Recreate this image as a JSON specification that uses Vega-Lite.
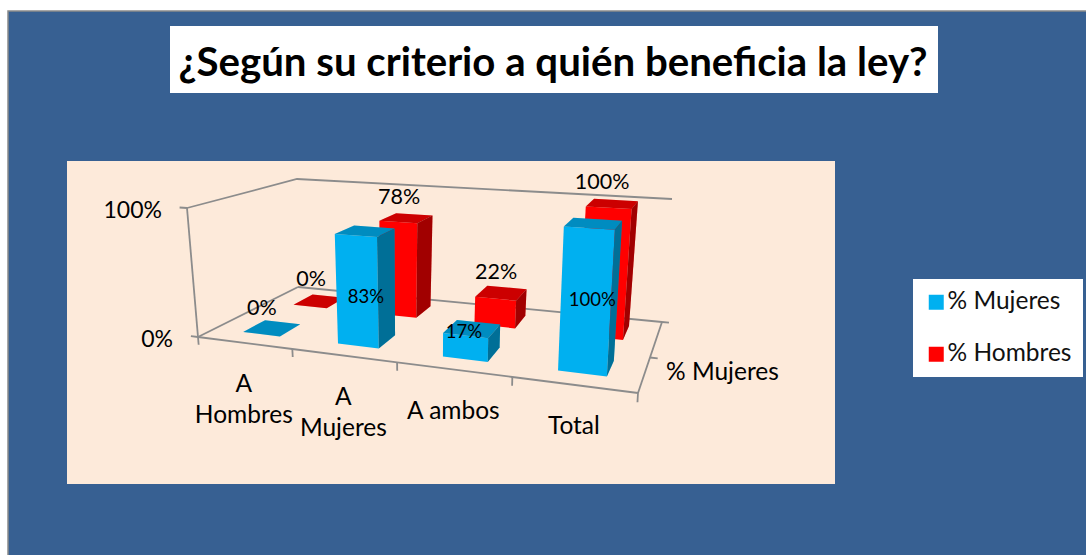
{
"$schema":"https://vega.github.io/schema/vega-lite/v6.json",
"width":1086,"height":555,"padding":0,"autosize":{"type":"none"},
"background":"#ffffff",
"config":{"view":{"stroke":null},"font":"Lato"},
"datasets":{
"barras":[
{"categoria":"A Hombres","serie":"% Hombres","valor":0},
{"categoria":"A Mujeres","serie":"% Hombres","valor":78},
{"categoria":"A ambos","serie":"% Hombres","valor":22},
{"categoria":"Total","serie":"% Hombres","valor":100},
{"categoria":"A Hombres","serie":"% Mujeres","valor":0},
{"categoria":"A Mujeres","serie":"% Mujeres","valor":83},
{"categoria":"A ambos","serie":"% Mujeres","valor":17},
{"categoria":"Total","serie":"% Mujeres","valor":100}
],
"marco":[
{"seg":"frente","k":0,"u":0,"w":0,"v":0},{"seg":"frente","k":1,"u":0.25,"w":0,"v":0},{"seg":"frente","k":2,"u":0.5,"w":0,"v":0},{"seg":"frente","k":3,"u":0.75,"w":0,"v":0},{"seg":"frente","k":4,"u":1,"w":0,"v":0},
{"seg":"derecha","k":0,"u":1,"w":0,"v":0},{"seg":"derecha","k":1,"u":1,"w":1,"v":0},
{"seg":"fondo","k":0,"u":1,"w":1,"v":0},{"seg":"fondo","k":1,"u":0,"w":1,"v":0},
{"seg":"izquierda","k":0,"u":0,"w":1,"v":0},{"seg":"izquierda","k":1,"u":0,"w":0,"v":0},
{"seg":"eje","k":0,"u":0,"w":0,"v":0},{"seg":"eje","k":1,"u":0,"w":0,"v":1},
{"seg":"techo","k":0,"u":0,"w":0,"v":1},{"seg":"techo","k":1,"u":0,"w":1,"v":1},{"seg":"techo","k":2,"u":1,"w":1,"v":1},
{"seg":"t1","k":0,"u":-0.02,"w":0,"v":1},{"seg":"t1","k":1,"u":0,"w":0,"v":1},
{"seg":"t2","k":0,"u":-0.02,"w":0,"v":0},{"seg":"t2","k":1,"u":0,"w":0,"v":0},
{"seg":"t3","k":0,"u":0,"w":0,"v":0},{"seg":"t3","k":1,"u":0,"w":0,"v":-0.06},
{"seg":"t4","k":0,"u":0.25,"w":0,"v":0},{"seg":"t4","k":1,"u":0.25,"w":0,"v":-0.06},
{"seg":"t5","k":0,"u":0.5,"w":0,"v":0},{"seg":"t5","k":1,"u":0.5,"w":0,"v":-0.06},
{"seg":"t6","k":0,"u":0.75,"w":0,"v":0},{"seg":"t6","k":1,"u":0.75,"w":0,"v":-0.06},
{"seg":"t7","k":0,"u":1,"w":0,"v":0},{"seg":"t7","k":1,"u":1,"w":0,"v":-0.06},
{"seg":"t8","k":0,"u":1,"w":0.5,"v":0},{"seg":"t8","k":1,"u":1.016,"w":0.5,"v":0},
{"seg":"t9","k":0,"u":1,"w":1,"v":0},{"seg":"t9","k":1,"u":1.016,"w":1,"v":0}
]
},
"encoding":{
"x":{"field":"px","type":"quantitative","scale":{"domain":[0,1086],"nice":false,"zero":false},"axis":null},
"y":{"field":"py","type":"quantitative","scale":{"domain":[555,0],"nice":false,"zero":false},"axis":null}
},
"layer":[
{"data":{"values":[{"n":"fondo"}]},
"transform":[{"calculate":"8","as":"px"},{"calculate":"1086","as":"px2"},{"calculate":"11","as":"py"},{"calculate":"555","as":"py2"}],
"mark":{"type":"rect","fill":"#376092"},
"encoding":{"x2":{"field":"px2"},"y2":{"field":"py2"}}},
{"data":{"values":[{"k":0},{"k":1},{"k":2}]},
"transform":[{"calculate":"[8,8,1086][datum.k]","as":"px"},{"calculate":"[555,11,11][datum.k]","as":"py"}],
"mark":{"type":"line","stroke":"#8a8a8a","strokeWidth":1.5},
"encoding":{"order":{"field":"k","type":"quantitative"}}},
{"data":{"values":[{"n":"titulo"}]},
"transform":[{"calculate":"170","as":"px"},{"calculate":"938","as":"px2"},{"calculate":"26","as":"py"},{"calculate":"93","as":"py2"}],
"mark":{"type":"rect","fill":"#ffffff"},
"encoding":{"x2":{"field":"px2"},"y2":{"field":"py2"}}},
{"data":{"values":[{"n":"panel"}]},
"transform":[{"calculate":"67","as":"px"},{"calculate":"835","as":"px2"},{"calculate":"161","as":"py"},{"calculate":"484","as":"py2"}],
"mark":{"type":"rect","fill":"#FDEADA"},
"encoding":{"x2":{"field":"px2"},"y2":{"field":"py2"}}},
{"data":{"values":[{"t":"¿Según su criterio a quién beneficia la ley?"}]},
"transform":[{"calculate":"553","as":"px"},{"calculate":"64","as":"py"}],
"mark":{"type":"text","fontSize":40.2,"fontWeight":"bold","font":"Lato","color":"#000000","align":"center","baseline":"middle"},
"encoding":{"text":{"field":"t"}}},
{"data":{"name":"marco"},
"transform":[
{"calculate":"datum.u-0.19*datum.u*(1-datum.u)","as":"f"},
{"calculate":"(1-datum.v)*((1-datum.w)*((1-datum.f)*198+datum.f*638)+datum.w*((1-datum.f)*298+datum.f*662))+datum.v*((1-datum.w)*((1-datum.f)*187+datum.f*647.4)+datum.w*((1-datum.f)*297+datum.f*672))","as":"px"},
{"calculate":"(1-datum.v)*((1-datum.w)*((1-datum.f)*337+datum.f*393)+datum.w*((1-datum.f)*287+datum.f*322))+datum.v*((1-datum.w)*((1-datum.f)*208+datum.f*239)+datum.w*((1-datum.f)*179+datum.f*199))","as":"py"}
],
"mark":{"type":"line","stroke":"#8c8c8c","strokeWidth":1.8,"interpolate":"linear"},
"encoding":{"detail":{"field":"seg"},"order":{"field":"k","type":"quantitative"}}},
{"data":{"name":"barras"},
"transform":[
{"calculate":"indexof(['A Hombres','A Mujeres','A ambos','Total'],datum.categoria)","as":"i"},
{"calculate":"[{cara:'frente',k:0,ku:0,kw:0,kv:0},{cara:'frente',k:1,ku:1,kw:0,kv:0},{cara:'frente',k:2,ku:1,kw:0,kv:1},{cara:'frente',k:3,ku:0,kw:0,kv:1},{cara:'techo',k:0,ku:0,kw:0,kv:1},{cara:'techo',k:1,ku:1,kw:0,kv:1},{cara:'techo',k:2,ku:1,kw:1,kv:1},{cara:'techo',k:3,ku:0,kw:1,kv:1},{cara:'lado',k:0,ku:1,kw:0,kv:0},{cara:'lado',k:1,ku:1,kw:1,kv:0},{cara:'lado',k:2,ku:1,kw:1,kv:1},{cara:'lado',k:3,ku:1,kw:0,kv:1}]","as":"esquinas"},
{"flatten":["esquinas"],"as":["c"]},
{"calculate":"datum.c.cara","as":"cara"},
{"calculate":"datum.c.k","as":"k"},
{"calculate":"(datum.i+0.32+0.40*datum.c.ku)/4","as":"u"},
{"calculate":"datum.serie=='% Mujeres'?0.17+0.23*datum.c.kw:0.70+0.20*datum.c.kw","as":"w"},
{"calculate":"datum.c.kv*datum.valor/100","as":"v"},
{"calculate":"datum.u-0.19*datum.u*(1-datum.u)","as":"f"},
{"calculate":"(1-datum.v)*((1-datum.w)*((1-datum.f)*198+datum.f*638)+datum.w*((1-datum.f)*298+datum.f*662))+datum.v*((1-datum.w)*((1-datum.f)*187+datum.f*647.4)+datum.w*((1-datum.f)*297+datum.f*672))","as":"px"},
{"calculate":"(1-datum.v)*((1-datum.w)*((1-datum.f)*337+datum.f*393)+datum.w*((1-datum.f)*287+datum.f*322))+datum.v*((1-datum.w)*((1-datum.f)*208+datum.f*239)+datum.w*((1-datum.f)*179+datum.f*199))","as":"py"}
],
"layer":[
{"transform":[{"filter":"datum.serie=='% Hombres'"}],
"mark":{"type":"line","strokeWidth":0},
"encoding":{"fill":{"field":"serie","type":"nominal","scale":{"domain":["% Mujeres","% Hombres"],"range":["#00B0F0","#FF0000"]},
"legend":{"title":null,"orient":"none","legendX":913,"legendY":279,"fillColor":"#ffffff","padding":11,"symbolType":"square","symbolSize":225,"symbolStrokeWidth":0,"symbolOpacity":1,"labelFontSize":24.5,"labelFont":"Lato","labelColor":"#111111","rowPadding":27,"labelOffset":-1}},
"detail":[{"field":"categoria"},{"field":"cara"}],"order":{"field":"k","type":"quantitative"}}},
{"transform":[{"filter":"datum.serie=='% Hombres' && datum.cara!='frente'"}],
"mark":{"type":"line","strokeWidth":0,"fill":"#000000"},
"encoding":{"fillOpacity":{"condition":{"test":"datum.cara=='lado'","value":0.37},"value":0.2},
"detail":[{"field":"categoria"},{"field":"cara"}],"order":{"field":"k","type":"quantitative"}}},
{"transform":[{"filter":"datum.serie=='% Mujeres'"}],
"mark":{"type":"line","strokeWidth":0},
"encoding":{"fill":{"field":"serie","type":"nominal"},
"detail":[{"field":"categoria"},{"field":"cara"}],"order":{"field":"k","type":"quantitative"}}},
{"transform":[{"filter":"datum.serie=='% Mujeres' && datum.cara!='frente'"}],
"mark":{"type":"line","strokeWidth":0,"fill":"#000000"},
"encoding":{"fillOpacity":{"condition":{"test":"datum.cara=='lado'","value":0.37},"value":0.2},
"detail":[{"field":"categoria"},{"field":"cara"}],"order":{"field":"k","type":"quantitative"}}}
]},
{"data":{"values":[{"t":"100%","v":1},{"t":"0%","v":0}]},
"transform":[
{"calculate":"198-11*datum.v","as":"px"},
{"calculate":"337-129*datum.v","as":"py"}
],
"mark":{"type":"text","fontSize":23,"font":"Lato","align":"right","baseline":"middle","dx":-25,"dy":3,"color":"#000000"},
"encoding":{"text":{"field":"t"}}},
{"data":{"values":[{"t":"A Hombres","u":0.125},{"t":"A Mujeres","u":0.375},{"t":"A ambos","u":0.625},{"t":"Total","u":0.875}]},
"transform":[
{"calculate":"datum.u-0.19*datum.u*(1-datum.u)","as":"f"},
{"calculate":"198+440*datum.f","as":"px"},
{"calculate":"337+56*datum.f","as":"py"},
{"calculate":"datum.t=='A ambos'?datum.t:replace(datum.t,' ','\\n')","as":"rotulo"}
],
"mark":{"type":"text","fontSize":24.5,"font":"Lato","align":"center","baseline":"top","dy":30.5,"lineBreak":"\n","lineHeight":31,"color":"#000000"},
"encoding":{"text":{"field":"rotulo"}}},
{"data":{"values":[{"t":"% Mujeres"}]},
"transform":[{"calculate":"666","as":"px"},{"calculate":"373","as":"py"}],
"mark":{"type":"text","fontSize":24.5,"font":"Lato","align":"left","baseline":"middle","color":"#000000"},
"encoding":{"text":{"field":"t"}}},
{"data":{"name":"barras"},
"transform":[
{"calculate":"indexof(['A Hombres','A Mujeres','A ambos','Total'],datum.categoria)","as":"i"},
{"calculate":"(datum.i+0.52)/4","as":"u"},
{"calculate":"datum.serie=='% Mujeres'?0.285:0.8","as":"w"},
{"calculate":"datum.valor/100","as":"v"},
{"calculate":"datum.u-0.19*datum.u*(1-datum.u)","as":"f"},
{"calculate":"(1-datum.v)*((1-datum.w)*((1-datum.f)*198+datum.f*638)+datum.w*((1-datum.f)*298+datum.f*662))+datum.v*((1-datum.w)*((1-datum.f)*187+datum.f*647.4)+datum.w*((1-datum.f)*297+datum.f*672))","as":"ax"},
{"calculate":"(1-datum.v)*((1-datum.w)*((1-datum.f)*337+datum.f*393)+datum.w*((1-datum.f)*287+datum.f*322))+datum.v*((1-datum.w)*((1-datum.f)*208+datum.f*239)+datum.w*((1-datum.f)*179+datum.f*199))","as":"ay"},
{"calculate":"datum.serie+'|'+datum.categoria","as":"clave"},
{"calculate":"datum.ax+{'% Mujeres|A Hombres':-10,'% Mujeres|A Mujeres':1,'% Mujeres|A ambos':-8,'% Mujeres|Total':-1,'% Hombres|A Hombres':-8,'% Hombres|A Mujeres':-7,'% Hombres|A ambos':-5,'% Hombres|Total':-10}[datum.clave]","as":"px"},
{"calculate":"datum.ay+{'% Mujeres|A Hombres':-19,'% Mujeres|A Mujeres':66,'% Mujeres|A ambos':3,'% Mujeres|Total':76,'% Hombres|A Hombres':-21,'% Hombres|A Mujeres':-20,'% Hombres|A ambos':-20,'% Hombres|Total':-21}[datum.clave]","as":"py"},
{"calculate":"datum.valor+'%'","as":"rotulo"}
],
"layer":[
{"transform":[{"filter":"datum.serie=='% Mujeres' && datum.valor>0"}],
"mark":{"type":"text","font":"Lato","fontSize":18.5,"align":"center","baseline":"middle","color":"#000000"},
"encoding":{"text":{"field":"rotulo"}}},
{"transform":[{"filter":"datum.serie=='% Hombres' || datum.valor==0"}],
"mark":{"type":"text","font":"Lato","fontSize":21.5,"align":"center","baseline":"middle","color":"#000000"},
"encoding":{"text":{"field":"rotulo"}}}
]}
]
}
